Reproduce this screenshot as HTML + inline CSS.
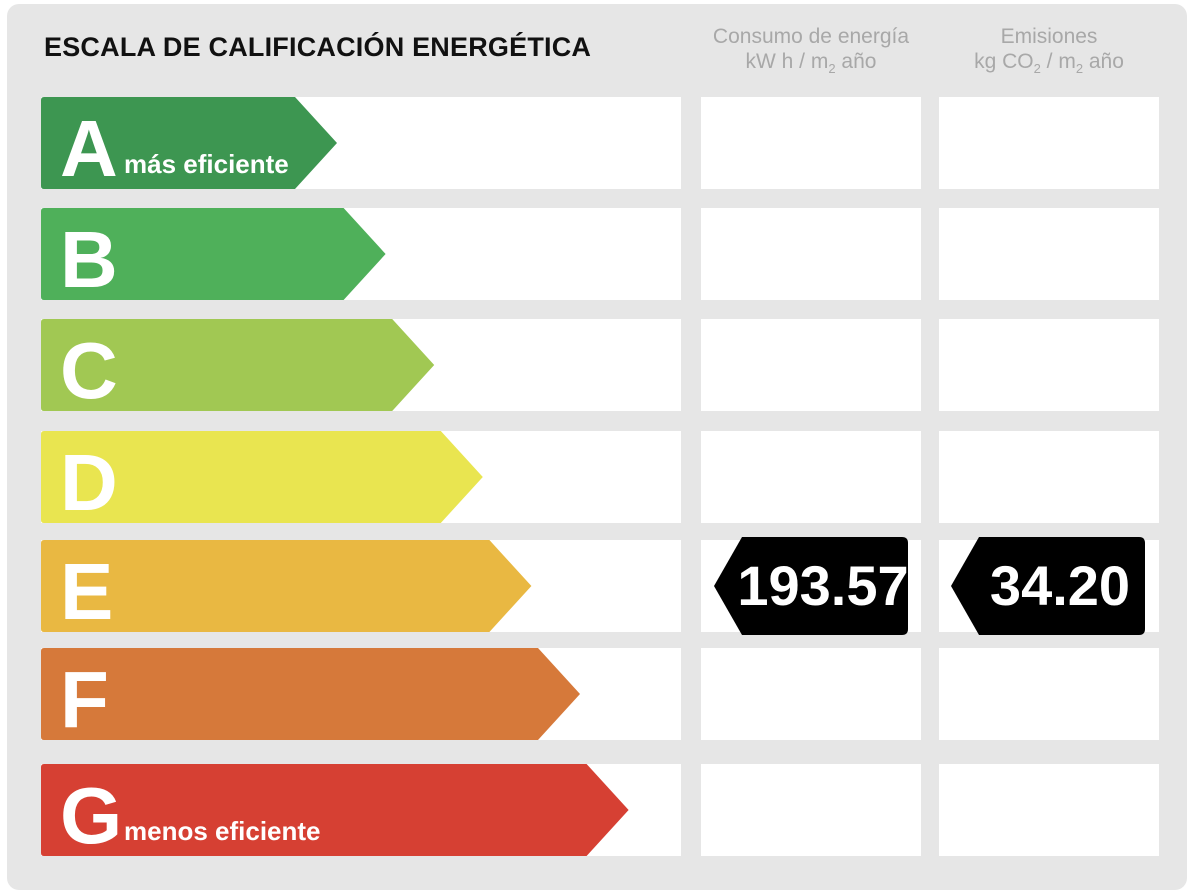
<!DOCTYPE html>
<html><head><meta charset="utf-8">
<style>
body{margin:0;width:1192px;height:896px;background:#fff;font-family:"Liberation Sans",sans-serif;overflow:hidden;position:relative}
#panel{position:absolute;left:7px;top:4px;width:1180px;height:886px;background:#e6e6e6;border-radius:12px}
.abs{position:absolute}
.title{left:44px;top:32px;font-size:27px;font-weight:bold;color:#111;letter-spacing:0.2px}
.colh{color:#a8a8a8;font-size:21px;text-align:center;line-height:25px}
</style></head><body>
<div id="panel"></div>
<div class="abs title">ESCALA DE CALIFICACIÓN ENERGÉTICA</div>
<div class="abs colh" style="left:701px;top:24px;width:220px">Consumo de energía<br>kW h / m<sub style="font-size:13px">2</sub> año</div>
<div class="abs colh" style="left:939px;top:24px;width:220px">Emisiones<br>kg CO<sub style="font-size:13px">2</sub> / m<sub style="font-size:13px">2</sub> año</div>
<svg id="chart" class="abs" style="left:0;top:0" width="1192" height="896"></svg>
<script>
const categories=["A","B","C","D","E","F","G"];
const colors=["#3d9651","#4fb05a","#a1c853","#e9e550","#e9b842","#d6793a","#d64033"];
const subLabels=["más eficiente","","","","","","menos eficiente"];
const energyValue="193.57";
const emissionValue="34.20";
const energyRating="E";
const emissionRating="E";
const rowTops=[97,208,319,431,540,648,764];
const ns="http://www.w3.org/2000/svg";
const svg=document.getElementById("chart");
function mk(t,a){const e=document.createElementNS(ns,t);for(const k in a)e.setAttribute(k,a[k]);svg.appendChild(e);return e;}
const H=92;
function arrowEnd(i){return 295+i*48.6;}
categories.forEach((c,i)=>{
  const y=rowTops[i];
  const strip=mk("rect",{x:41,y:y,width:640,height:H,fill:"#fff"});
  
  
  const c1=mk("rect",{x:701,y:y,width:220,height:H,fill:"#fff"});
  
  
  const c2=mk("rect",{x:939,y:y,width:220,height:H,fill:"#fff"});
  
  
  const e=arrowEnd(i);
  const p=mk("path",{d:`M44 ${y} L${e} ${y} L${e+42} ${y+H/2} L${e} ${y+H} L44 ${y+H} Q41 ${y+H} 41 ${y+H-3} L41 ${y+3} Q41 ${y} 44 ${y} Z`,fill:colors[i]});
  
  
  const t=mk("text",{x:60,y:y+79,fill:"#fff","font-size":80,"font-weight":"bold","font-family":"Liberation Sans, sans-serif"});
  t.textContent=c;
  
  
  if(subLabels[i]){
    const s=mk("text",{x:124,y:y+76,fill:"#fff","font-size":26,"font-weight":"bold","font-family":"Liberation Sans, sans-serif"});
    s.textContent=subLabels[i];
    
    
  }
});
function badge(x0,rating,val,name){
  const i=categories.indexOf(rating);const y=rowTops[i]-3;const h=98,w=194;
  const p=mk("path",{d:`M${x0+28} ${y} L${x0+w-6} ${y} Q${x0+w} ${y} ${x0+w} ${y+6} L${x0+w} ${y+h-6} Q${x0+w} ${y+h} ${x0+w-6} ${y+h} L${x0+28} ${y+h} L${x0} ${y+h/2} Z`,fill:"#000"});
  
  
  const t=mk("text",{x:x0+w/2+12,y:y+68,fill:"#fff","font-size":56,"font-weight":"bold","text-anchor":"middle","font-family":"Liberation Sans, sans-serif"});
  t.textContent=val;
  
  
}
badge(714,energyRating,energyValue,'energy');
badge(951,emissionRating,emissionValue,'emission');
</script>
</body></html>
